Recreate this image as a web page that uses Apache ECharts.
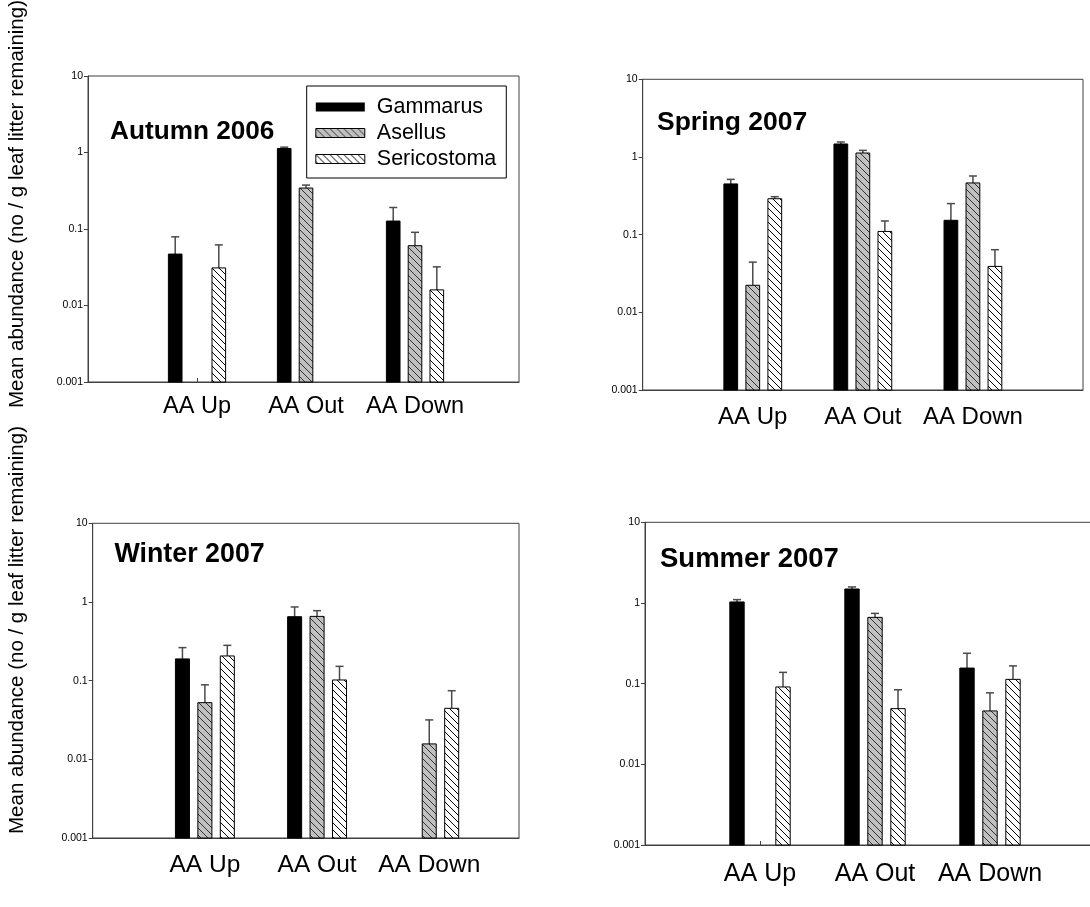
<!DOCTYPE html>
<html>
<head>
<meta charset="utf-8">
<script src="https://cdn.jsdelivr.net/npm/echarts@6/dist/echarts.min.js"></script>
<style>
  html, body { margin: 0; padding: 0; background: #fff; }
  #chart { width: 1090px; height: 907px; }
</style>
</head>
<body>
<div id="chart"></div>
<script>
// data (mean abundance, no / g leaf litter remaining)
const categories = ['AA Up', 'AA Out', 'AA Down'];
const seasons = ['Autumn 2006', 'Spring 2007', 'Winter 2007', 'Summer 2007'];
const species = ['Gammarus', 'Asellus', 'Sericostoma'];
const yTicks = [0.001, 0.01, 0.1, 1, 10];

// rows = seasons, columns = sites; null = no bar
const gammarusMean = [
  [0.047, 1.13, 0.127],
  [0.45, 1.47, 0.153],
  [0.189, 0.65, null],
  [1.03, 1.49, 0.156]
];
const gammarusSE = [
  [0.032, 0.045, 0.064],
  [0.065, 0.09, 0.098],
  [0.074, 0.214, null],
  [0.07, 0.09, 0.082]
];
const asellusMean = [
  [null, 0.343, 0.0605],
  [0.0223, 1.125, 0.463],
  [0.0525, 0.656, 0.0157],
  [null, 0.663, 0.0459]
];
const asellusSE = [
  [null, 0.032, 0.030],
  [0.022, 0.091, 0.106],
  [0.036, 0.119, 0.016],
  [null, 0.080, 0.031]
];
const sericostomaMean = [
  [0.031, null, 0.016],
  [0.29, 0.110, 0.039],
  [0.206, 0.102, 0.0445],
  [0.091, 0.049, 0.113]
];
const sericostomaSE = [
  [0.031, null, 0.016],
  [0.018, 0.040, 0.025],
  [0.075, 0.050, 0.030],
  [0.047, 0.035, 0.053]
];

const FONT = '"Liberation Sans", Arial, sans-serif';
const BAR_W = 0.125;   // bar width in x-axis units
const BAR_STEP = 0.2;  // distance between bars in a group

// panel boxes, each one was scaled a bit differently in the original
const panels = [
  { left: 88, top: 76, width: 431, height: 306, xMax: 3.954, lab: 23.5, margin: 13, title: [110, 131.3, 26.2] },
  { left: 642.7, top: 79.3, width: 440.3, height: 310.7, xMax: 4, lab: 24, margin: 15, title: [657, 122.3, 26.5] },
  { left: 92.7, top: 523.3, width: 426.3, height: 314.7, xMax: 3.8, lab: 24.5, margin: 14.5, title: [114.5, 555, 26.8] },
  { left: 645, top: 522.3, width: 460, height: 322.7, xMax: 4, lab: 25, margin: 17, title: [660, 559.5, 27.5] }
];

function hatch(bg, fg) {
  const s = 7;
  const c = document.createElement('canvas');
  c.width = s; c.height = s;
  const ctx = c.getContext('2d');
  ctx.fillStyle = bg;
  ctx.fillRect(0, 0, s, s);
  ctx.strokeStyle = fg;
  ctx.lineWidth = 1;
  ctx.beginPath();
  ctx.moveTo(-1, -1); ctx.lineTo(s + 1, s + 1);
  ctx.moveTo(s - 1, -1); ctx.lineTo(s + 1, 1);
  ctx.moveTo(-1, s - 1); ctx.lineTo(1, s + 1);
  ctx.stroke();
  return { image: c, repeat: 'repeat' };
}

const fills = ['#000', hatch('#c0c0c0', '#333'), hatch('#fff', '#000')];
const means = [gammarusMean, asellusMean, sericostomaMean];
const ses = [gammarusSE, asellusSE, sericostomaSE];

function barRenderer(offset, fill) {
  return function (params, api) {
    const x = api.value(0) + offset;
    const m = api.value(1);
    const top = api.coord([x, m]);
    const base = api.coord([x, yTicks[0]]);
    const errTop = api.coord([x, m + api.value(2)]);
    const l = api.coord([x - BAR_W / 2, 1])[0];
    const r = api.coord([x + BAR_W / 2, 1])[0];
    const err = { stroke: '#4a4a4a', lineWidth: 1.5 };
    return {
      type: 'group',
      children: [
        { type: 'line', shape: { x1: top[0], y1: top[1], x2: top[0], y2: errTop[1] }, style: err },
        { type: 'line', shape: { x1: top[0] - 4, y1: errTop[1], x2: top[0] + 4, y2: errTop[1] }, style: err },
        { type: 'rect', shape: { x: l, y: top[1], width: r - l, height: base[1] - top[1] },
          style: { fill: fill, stroke: '#000', lineWidth: 1 } }
      ]
    };
  };
}

const grid = [], xAxis = [], yAxis = [], series = [], graphic = [];
panels.forEach(function (p, i) {
  grid.push({ left: p.left, top: p.top, width: p.width, height: p.height,
    outerBoundsMode: 'none', containLabel: false,
    show: true, borderColor: '#404040', borderWidth: 1 });
  xAxis.push({
    gridIndex: i, type: 'value', min: 0, max: p.xMax,
    axisLine: { show: true, lineStyle: { color: '#404040', width: 1 } },
    axisTick: { show: true, inside: true, length: 4, customValues: [1, 2, 3], lineStyle: { color: '#404040' } },
    axisLabel: {
      customValues: [1, 2, 3], margin: p.margin, color: '#000',
      fontFamily: FONT, fontSize: p.lab,
      formatter: function (v) { return categories[Math.round(v) - 1] || ''; }
    },
    splitLine: { show: false }
  });
  yAxis.push({
    gridIndex: i, type: 'log', logBase: 10, min: yTicks[0], max: yTicks[yTicks.length - 1],
    axisLine: { show: true, lineStyle: { color: '#404040', width: 1 } },
    axisTick: { show: true, length: 4, lineStyle: { color: '#404040' } },
    axisLabel: {
      margin: 5, color: '#000', fontFamily: FONT, fontSize: 10.5,
      formatter: function (v) { return String(+Number(v).toPrecision(3)); }
    },
    splitLine: { show: false },
    minorTick: { show: false }
  });
  species.forEach(function (name, k) {
    const data = [];
    categories.forEach(function (c, j) {
      const m = means[k][i][j];
      if (m != null) data.push([j + 1, m, ses[k][i][j]]);
    });
    series.push({
      type: 'custom', name: name, xAxisIndex: i, yAxisIndex: i,
      itemStyle: { color: k === 0 ? '#000' : '#999' },
      renderItem: barRenderer((k - 1) * BAR_STEP, fills[k]),
      encode: { x: 0, y: 1 },
      data: data
    });
  });
  graphic.push({
    type: 'text', x: p.title[0], y: p.title[1],
    style: { text: seasons[i], fill: '#000', font: 'bold ' + p.title[2] + 'px ' + FONT,
      textAlign: 'left', textVerticalAlign: 'middle' }
  });
});

// shared y-axis titles
[204, 630].forEach(function (y) {
  graphic.push({
    type: 'text', x: 17, y: y, rotation: Math.PI / 2,
    style: { text: 'Mean abundance (no / g leaf litter remaining)', fill: '#000',
      font: '20.5px ' + FONT, textAlign: 'center', textVerticalAlign: 'middle' }
  });
});

const chart = echarts.init(document.getElementById('chart'), null, { renderer: 'canvas' });
chart.setOption({
  animation: false,
  backgroundColor: '#fff',
  grid: grid,
  xAxis: xAxis,
  yAxis: yAxis,
  legend: {
    orient: 'vertical', left: 306.7, top: 86,
    padding: [10, 10, 8, 8.6],
    itemWidth: 49, itemHeight: 9, itemGap: 4,
    borderColor: '#000', borderWidth: 1,
    textStyle: { fontFamily: FONT, fontSize: 21.5, color: '#000', lineHeight: 22, padding: [0, 0, 0, 7] },
    data: species.map(function (name, k) {
      return {
        name: name, icon: 'rect',
        itemStyle: k === 0 ? { color: '#000', borderWidth: 0 }
          : { color: fills[k], borderColor: '#000', borderWidth: 1 }
      };
    })
  },
  graphic: graphic,
  series: series
});
</script>
</body>
</html>
